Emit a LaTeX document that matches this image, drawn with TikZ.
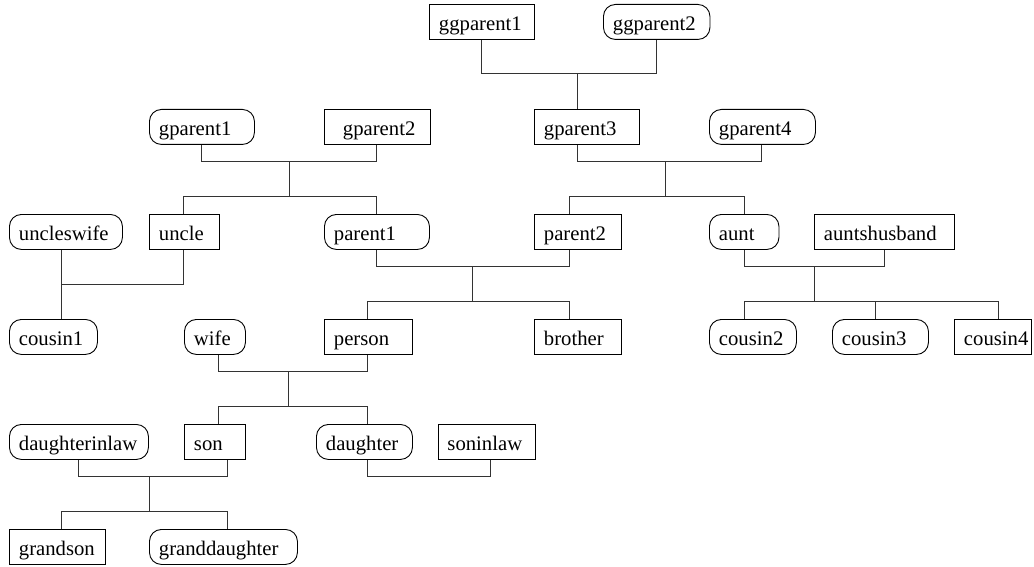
\documentclass[tikz,border=0pt]{standalone}
\usepackage{fontspec}
\setmainfont{Liberation Serif}
\begin{document}
\begin{tikzpicture}[x=1pt,y=-1pt,
  famnode/.style={draw=black, line width=0.9pt, inner sep=0pt, minimum height=35pt,
    anchor=north west, text height=19pt, text depth=2pt,
    font=\fontsize{20.7}{24}\selectfont},
  sq/.style={famnode},
  rd/.style={famnode, rounded corners=12pt},
  link/.style={draw=black!80, line width=0.9pt}]
\useasboundingbox (0,0) rectangle (1034,567);
\newcommand{\lbl}[2]{\makebox[#1pt][l]{\hspace{9.5pt}#2}}
% row 0
\node[sq] (ggp1) at (429,4) {\lbl{105}{ggparent1}};
\node[rd] (ggp2) at (603,4) {\lbl{106.5}{ggparent2}};
% row 1
\node[rd] (gp1) at (149,109) {\lbl{105}{gparent1}};
\node[sq] (gp2) at (323.5,109) {\makebox[106pt][l]{\hspace{19pt}gparent2}};
\node[sq] (gp3) at (534,109) {\lbl{105}{gparent3}};
\node[rd] (gp4) at (709,109) {\lbl{106}{gparent4}};
% row 2
\node[rd] (uw) at (9,214) {\lbl{113}{uncleswife}};
\node[sq] (uncle) at (149,214) {\lbl{70}{uncle}};
\node[rd] (par1) at (324,214) {\lbl{105}{parent1}};
\node[sq] (par2) at (534,214) {\lbl{87}{parent2}};
\node[rd] (aunt) at (709,214) {\lbl{69.5}{aunt}};
\node[sq] (ah) at (814,214) {\lbl{140}{auntshusband}};
% row 3
\node[rd] (cz1) at (9,319) {\lbl{88}{cousin1}};
\node[rd] (wife) at (184,319) {\lbl{61}{wife}};
\node[sq] (pers) at (324,319) {\lbl{88}{person}};
\node[sq] (bro) at (534,319) {\lbl{87}{brother}};
\node[rd] (cz2) at (709,319) {\lbl{87}{cousin2}};
\node[rd] (cz3) at (832,319) {\lbl{96}{cousin3}};
\node[sq] (cz4) at (954,319) {\lbl{77}{cousin4}};
% row 4
\node[rd] (dil) at (9,424) {\lbl{139}{daughterinlaw}};
\node[sq] (son) at (184,424) {\lbl{61}{son}};
\node[rd] (dau) at (316,424) {\lbl{96}{daughter}};
\node[sq] (sil) at (437.5,424) {\lbl{97}{soninlaw}};
% row 5
\node[sq] (gs) at (9,529) {\lbl{96}{grandson}};
\node[rd] (gd) at (149,529) {\lbl{148}{granddaughter}};

% junction coordinates
\coordinate (a1) at (481.7,73.3); \coordinate (a2) at (656.7,73.3); \coordinate (am) at (577.7,73.3);
\coordinate (b1) at (201.7,161.7); \coordinate (b2) at (376.7,161.7); \coordinate (bm) at (289,161.7);
\coordinate (bc) at (289,196.7); \coordinate (bc1) at (183.7,196.7); \coordinate (bc2) at (376.7,196.7);
\coordinate (c1) at (577.7,161.3); \coordinate (c2) at (761.7,161.3); \coordinate (cm) at (665.5,161.3);
\coordinate (cc) at (665.5,196.7); \coordinate (cc1) at (569.8,196.7); \coordinate (cc2) at (744,196.7);
\coordinate (d1) at (61.7,284); \coordinate (d2) at (183.7,284);
\coordinate (e1) at (376.7,266); \coordinate (e2) at (569.8,266); \coordinate (em) at (472.8,266);
\coordinate (ec) at (472.8,301.7); \coordinate (ec1) at (367.7,301.7); \coordinate (ec2) at (569.8,301.7);
\coordinate (f1) at (744,266.7); \coordinate (f2) at (884.5,266.7); \coordinate (fm) at (814,266.7);
\coordinate (fc) at (814,301.7); \coordinate (fc1) at (744,301.7); \coordinate (fc2) at (875.3,301.7); \coordinate (fc3) at (998,301.7);
\coordinate (g1) at (218.6,371.7); \coordinate (g2) at (367.8,371.7); \coordinate (gm) at (288.6,371.7);
\coordinate (gc) at (288.6,406.7); \coordinate (gc1) at (218.6,406.7); \coordinate (gc2) at (367.8,406.7);
\coordinate (h1) at (78.6,476.7); \coordinate (h2) at (227.5,476.7); \coordinate (hm) at (149,476.7);
\coordinate (hc) at (149,511.7); \coordinate (hc1) at (61.4,511.7); \coordinate (hc2) at (227.5,511.7);
\coordinate (i1) at (367.9,476.7); \coordinate (i2) at (490.4,476.7);

% connectors
\draw[link] (ggp1.south -| a1) -- (a1) -- (a2) -- (ggp2.south -| a2);
\draw[link] (am) -- (gp3.north -| am);

\draw[link] (gp1.south -| b1) -- (b1) -- (b2) -- (gp2.south -| b2);
\draw[link] (bm) -- (bc);
\draw[link] (uncle.north -| bc1) -- (bc1) -- (bc2) -- (par1.north -| bc2);

\draw[link] (gp3.south -| c1) -- (c1) -- (c2) -- (gp4.south -| c2);
\draw[link] (cm) -- (cc);
\draw[link] (par2.north -| cc1) -- (cc1) -- (cc2) -- (aunt.north -| cc2);

\draw[link] (uw.south -| d1) -- (d1) -- (d2) -- (uncle.south -| d2);
\draw[link] (d1) -- (cz1.north -| d1);

\draw[link] (par1.south -| e1) -- (e1) -- (e2) -- (par2.south -| e2);
\draw[link] (em) -- (ec);
\draw[link] (pers.north -| ec1) -- (ec1) -- (ec2) -- (bro.north -| ec2);

\draw[link] (aunt.south -| f1) -- (f1) -- (f2) -- (ah.south -| f2);
\draw[link] (fm) -- (fc);
\draw[link] (cz2.north -| fc1) -- (fc1) -- (fc3) -- (cz4.north -| fc3);
\draw[link] (fc2) -- (cz3.north -| fc2);

\draw[link] (wife.south -| g1) -- (g1) -- (g2) -- (pers.south -| g2);
\draw[link] (gm) -- (gc);
\draw[link] (son.north -| gc1) -- (gc1) -- (gc2) -- (dau.north -| gc2);

\draw[link] (dil.south -| h1) -- (h1) -- (h2) -- (son.south -| h2);
\draw[link] (hm) -- (hc);
\draw[link] (gs.north -| hc1) -- (hc1) -- (hc2) -- (gd.north -| hc2);

\draw[link] (dau.south -| i1) -- (i1) -- (i2) -- (sil.south -| i2);
\end{tikzpicture}
\end{document}
